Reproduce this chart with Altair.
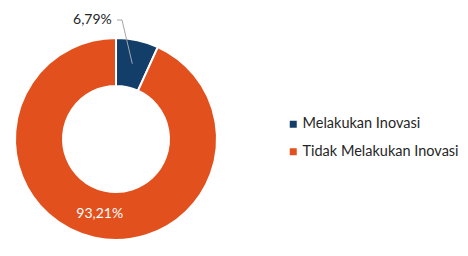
import altair as alt
import pandas as pd
import numpy as np

categories = ["Melakukan Inovasi", "Tidak Melakukan Inovasi"]
values = [6.79, 93.21]
labels = ["6,79%", "93,21%"]
colors = ["#123e69", "#e2501e"]

df = pd.DataFrame({"kategori": categories, "nilai": values, "label": labels, "urut": [0, 1]})

CX, CY = 116, 139
R_OUT, R_IN = 101, 53
R_MID = (R_OUT + R_IN) / 2

base = alt.Chart(df).encode(
    theta=alt.Theta("nilai:Q", stack=True),
    order=alt.Order("urut:Q"),
    x=alt.value(CX),
    y=alt.value(CY),
)

arc = base.mark_arc(outerRadius=R_OUT, innerRadius=R_IN, stroke="white", strokeWidth=2).encode(
    color=alt.Color(
        "kategori:N",
        scale=alt.Scale(domain=categories, range=colors),
        legend=alt.Legend(
            title=None,
            orient="none",
            legendX=286,
            legendY=117,
            symbolType="square",
            symbolSize=49,
            symbolStrokeWidth=0,
            labelFont="Lato",
            labelFontSize=14.5,
            labelColor="#262626",
            rowPadding=12.5,
            labelOffset=2,
        ),
    )
)

inner_label = base.transform_calculate(
    txt="datum.urut == 1 ? datum.label : ''"
).mark_text(
    radius=R_MID, font="Lato", fontSize=14, color="white"
).encode(text="txt:N")

outer_label = base.transform_calculate(
    txt="datum.urut == 0 ? datum.label : ''"
).mark_text(
    radius=122, dx=-30, align="right", font="Lato", fontSize=14, color="#262626"
).encode(text="txt:N")

# leader line for the small slice, derived from its mid angle
mid = np.deg2rad(values[0] / sum(values) * 360 / 2)
p0 = (CX + R_MID * np.sin(mid), CY - R_MID * np.cos(mid))
elbow_r = 119
p1 = (CX + 6, CY - elbow_r)
p2 = (CX + 1, CY - elbow_r)
leader_df = pd.DataFrame({"px": [p0[0], p1[0], p2[0]], "py": [p0[1], p1[1], p2[1]], "i": [0, 1, 2]})
leader = alt.Chart(leader_df).mark_line(color="#a6a6a6", strokeWidth=1).encode(
    x=alt.X("px:Q", scale=None),
    y=alt.Y("py:Q", scale=None),
    order="i:Q",
)

chart = alt.layer(arc, leader, inner_label, outer_label).properties(
    width=468, height=256, autosize=alt.AutoSizeParams(type="none"), padding=0
).configure_view(stroke=None)

chart.save("out.html", embed_options={"renderer": "svg", "actions": False})
